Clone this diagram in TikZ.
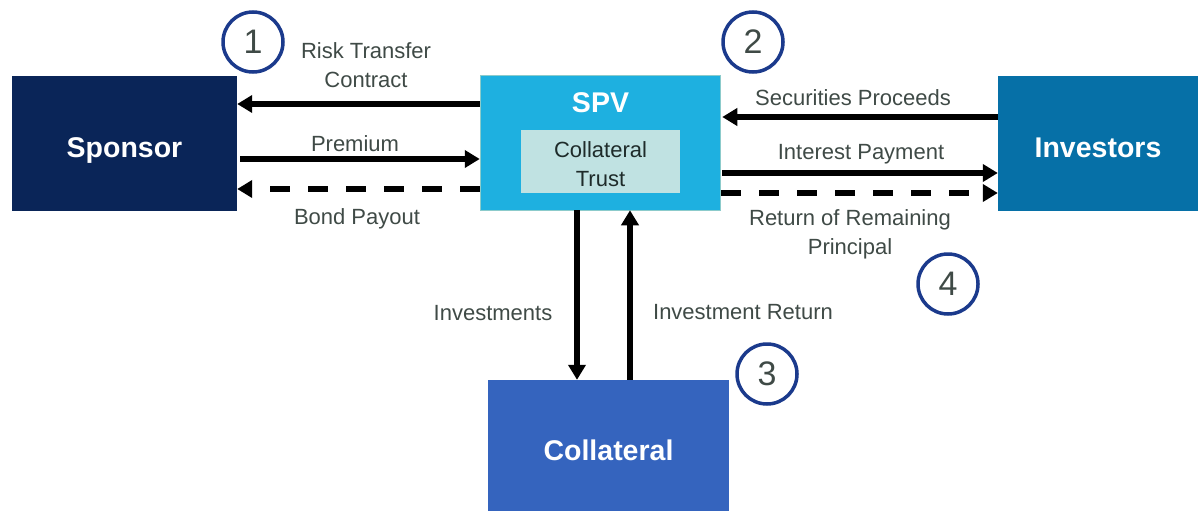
\documentclass[tikz,border=0pt]{standalone}
\usepackage{fontspec}
\setmainfont{Liberation Sans}
\usetikzlibrary{arrows.meta}
\definecolor{navy}{HTML}{0A2558}
\definecolor{spvblue}{HTML}{1EB0E0}
\definecolor{spvedge}{HTML}{8CCBCB}
\definecolor{trustfill}{HTML}{C0E2E2}
\definecolor{invblue}{HTML}{0670A7}
\definecolor{colblue}{HTML}{3564BE}
\definecolor{ringblue}{HTML}{1B3A8C}
\definecolor{labelgray}{HTML}{3F4A46}
\definecolor{darktext}{HTML}{1E2B2A}
\tikzset{
  party/.style={rectangle, inner sep=0pt},
  partytext/.style={inner sep=0pt, anchor=base, text=white,
    font=\fontsize{28.5}{32}\selectfont\bfseries},
  flowlabel/.style={text=labelgray, align=center, inner sep=0pt,
    font=\fontsize{22}{29}\selectfont},
  flow/.style={line width=5.5pt, -{Triangle[length=15pt,width=17pt]}},
  dashflow/.style={flow, dash pattern=on 20pt off 18pt},
  stepmark/.style={circle, draw=ringblue, line width=3.5pt, minimum size=60pt,
    inner sep=0pt, text=labelgray, font=\fontsize{34}{36}\selectfont},
}
\begin{document}
\begin{tikzpicture}[x=1pt, y=-1pt]
\useasboundingbox (0,0) rectangle (1198,511);

% parties
\node[party, fill=navy, minimum width=225pt, minimum height=135pt] (sponsor) at (124.5,143.5) {};
\node[partytext] (sponsortext) at (124.5,157) {Sponsor};
\node[party, fill=spvblue, draw=spvedge, line width=1.5pt, minimum width=240pt, minimum height=135pt] (spv) at (600.5,143) {};
\node[partytext] (spvtitle) at (600.5,112) {SPV};
\node[party, fill=trustfill, minimum width=159pt, minimum height=63pt] (trust) at (600.5,161.5) {};
\node[text=darktext, align=center, inner sep=0pt,
  font=\fontsize{22}{29}\selectfont] (trusttext) at (600.5,164.5) {Collateral\\Trust};
\node[party, fill=invblue, minimum width=200pt, minimum height=135pt] (investors) at (1098,143.5) {};
\node[partytext] (investorstext) at (1098,157) {Investors};
\node[party, fill=colblue, minimum width=241pt, minimum height=131pt] (collateral) at (608.5,445.5) {};
\node[partytext] (collateraltext) at (608.5,460) {Collateral};

% sponsor <-> SPV
\draw[flow] (spv.west |- 0,104) -- (sponsor.east |- 0,104);
\draw[flow] ([xshift=3pt]sponsor.east |- 0,159) -- (spv.west |- 0,159);
\draw[dashflow] (spv.west |- 0,189) -- (sponsor.east |- 0,189);

% SPV <-> investors
\draw[flow] (investors.west |- 0,117) -- ([xshift=1pt]spv.east |- 0,117);
\draw[flow] ([xshift=1pt]spv.east |- 0,173) -- (investors.west |- 0,173);
\draw[dashflow] (spv.east |- 0,193) -- (investors.west |- 0,193);

% SPV <-> collateral
\draw[flow] ([yshift=1pt]spv.south -| 577,0) -- (collateral.north -| 577,0);
\draw[flow] (collateral.north -| 630,0) -- ([yshift=1pt]spv.south -| 630,0);

% flow labels
\node[flowlabel] (lrisk) at (366,65.5) {Risk Transfer\\Contract};
\node[flowlabel] (lprem) at (355,144) {Premium};
\node[flowlabel] (lbond) at (357,219) {Bond Payout};
\node[flowlabel] (lsec) at (853,98) {Securities Proceeds};
\node[flowlabel] (lint) at (861,154) {Interest Payment};
\node[flowlabel] (lret) at (850,234) {Return of Remaining\\Principal};
\node[flowlabel] (linv) at (493,313) {Investments};
\node[flowlabel] (linvret) at (743,312) {Investment Return};

% step markers
\node[stepmark] (s1) at (253,42) {1};
\node[stepmark] (s2) at (753,42) {2};
\node[stepmark] (s3) at (767,374) {3};
\node[stepmark] (s4) at (948,284) {4};
\end{tikzpicture}
\end{document}
